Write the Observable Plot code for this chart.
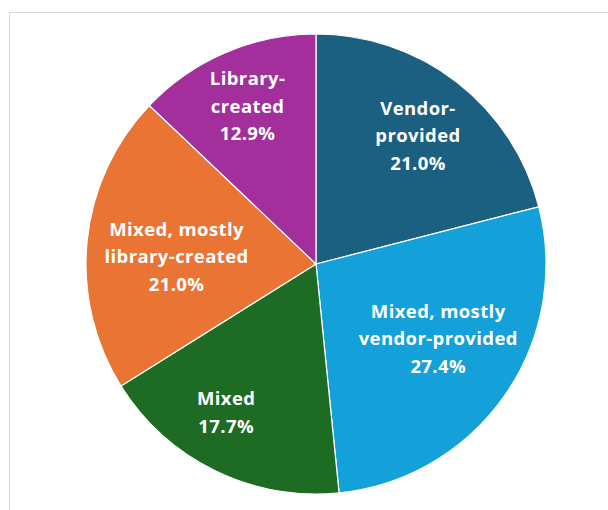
<!DOCTYPE html>
<html>
<head>
<meta charset="utf-8">
<script src="https://cdn.jsdelivr.net/npm/d3@7"></script>
<script src="https://cdn.jsdelivr.net/npm/@observablehq/plot@0.6"></script>
<style>
  html, body { margin: 0; padding: 0; background: #fff; overflow: hidden; }
  #wrap { position: relative; width: 608px; height: 510px; }
  #frame { position: absolute; left: 9px; top: 12px; width: 640px; height: 540px; border: 1px solid #d6d6d6; box-sizing: border-box; }
  #chart { position: absolute; left: 0; top: 0; }
  #chart text { letter-spacing: 0.4px; }
</style>
</head>
<body>
<div id="wrap"><div id="frame"></div><div id="chart"></div></div>
<script>
// Data (clockwise from 12 o'clock)
const categories = ["Vendor-provided", "Mixed, mostly vendor-provided", "Mixed", "Mixed, mostly library-created", "Library-created"];
const labelLines = ["Vendor-\nprovided", "Mixed, mostly\nvendor-provided", "Mixed", "Mixed, mostly\nlibrary-created", "Library-\ncreated"];
const shares = [21.0, 27.4, 17.7, 21.0, 12.9];
const colors = ["#1b5f81", "#14a0d8", "#1e6b24", "#e97434", "#a22f9b"];

// layout: label distance from centre as a fraction of the radius
const labelRadius = [0.72, 0.615, 0.745, 0.61, 0.76];
const labelTurn = [0, -0.075, 0.1, -0.03, 0];

const arcs = d3.pie().sort(null).value(d => d.value)(
  categories.map((c, i) => ({category: c, label: labelLines[i], value: shares[i]}))
);
const labels = arcs.map((a, i) => {
  const mid = (a.startAngle + a.endAngle) / 2 + labelTurn[i];
  const r = labelRadius[i];
  return {
    x: r * Math.sin(mid),
    y: r * Math.cos(mid),
    text: a.data.label + "\n" + d3.format(".1f")(a.data.value) + "%"
  };
});

function pieMark(index, scales) {
  const x = scales.x, y = scales.y, color = scales.color;
  const cx = x(0), cy = y(0), R = x(1) - x(0);
  const arcGen = d3.arc().innerRadius(0).outerRadius(R);
  const g = d3.create("svg:g").attr("transform", `translate(${cx},${cy})`);
  g.selectAll("path").data(arcs).join("path")
    .attr("d", arcGen)
    .attr("fill", d => color(d.data.category))
    .attr("stroke", "#ffffff")
    .attr("stroke-width", 1.2)
    .attr("stroke-linejoin", "round");
  return g.node();
}

const chart = Plot.plot({
  width: 608,
  height: 510,
  margin: 0,
  x: {domain: [-1, 1], range: [86, 546], axis: null},
  y: {domain: [-1, 1], range: [494, 34], axis: null},
  color: {domain: categories, range: colors},
  style: {background: "transparent", fontFamily: "'Open Sans', sans-serif"},
  marks: [
    Plot.dot(arcs, {x: () => 0, y: () => 0, fill: d => d.data.category, r: 0}),
    pieMark,
    Plot.text(labels, {
      x: "x", y: "y", text: "text",
      fill: "white", fontSize: 18.5, fontWeight: 700,
      lineHeight: 1.49, textAnchor: "middle"
    })
  ]
});
document.getElementById("chart").append(chart);
</script>
</body>
</html>
